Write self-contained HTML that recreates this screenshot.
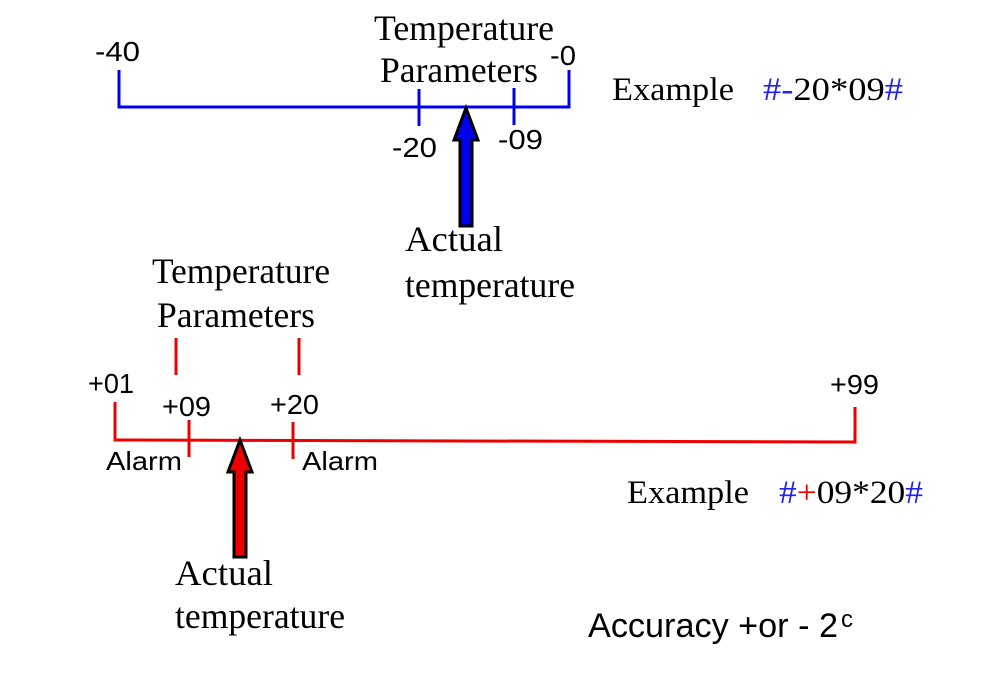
<!DOCTYPE html>
<html><head><meta charset="utf-8"><style>html,body{margin:0;padding:0;background:#fff}svg{display:block}</style></head>
<body>
<svg width="1008" height="675" viewBox="0 0 1008 675" xmlns="http://www.w3.org/2000/svg">
<g fill="none" stroke="#0000ee" stroke-width="3">
<polyline points="119,70 119,107 569,107 569,70"/>
<line x1="419" y1="89" x2="419" y2="126"/>
<line x1="514" y1="88" x2="514" y2="125"/>
</g>
<polygon points="466,108 478,140 472,140 472,226 460,226 460,140 454,140" fill="#0000ee" stroke="#000" stroke-width="3" stroke-linejoin="miter"/>
<g fill="none" stroke="#ee0000" stroke-width="3">
<polyline points="115,402 115,440 855,442 855,407"/>
<line x1="189" y1="420" x2="189" y2="457"/>
<line x1="293" y1="422" x2="293" y2="459"/>
<line x1="176" y1="338" x2="176" y2="375"/>
<line x1="299" y1="338" x2="299" y2="375"/>
</g>
<polygon points="240,440 252,472 246,472 246,557 234,557 234,472 228,472" fill="#ee0000" stroke="#000" stroke-width="3"/>
<g font-family="Liberation Sans, sans-serif" font-size="28" fill="#000">
<text x="95" y="61" textLength="45" lengthAdjust="spacingAndGlyphs">-40</text>
<text x="550" y="65" textLength="26" lengthAdjust="spacingAndGlyphs">-0</text>
<text x="392" y="157" textLength="45" lengthAdjust="spacingAndGlyphs">-20</text>
<text x="498" y="149" textLength="45" lengthAdjust="spacingAndGlyphs">-09</text>
<text x="88" y="393" textLength="46" lengthAdjust="spacingAndGlyphs">+01</text>
<text x="162" y="416" textLength="49" lengthAdjust="spacingAndGlyphs">+09</text>
<text x="270" y="414" textLength="49" lengthAdjust="spacingAndGlyphs">+20</text>
<text x="830" y="394" textLength="49" lengthAdjust="spacingAndGlyphs">+99</text>
<text x="106" y="470" font-size="26" textLength="76" lengthAdjust="spacingAndGlyphs">Alarm</text>
<text x="302" y="470" font-size="26" textLength="76" lengthAdjust="spacingAndGlyphs">Alarm</text>
<text x="588" y="637" font-size="34" textLength="250" lengthAdjust="spacingAndGlyphs">Accuracy +or - 2</text>
<text x="841" y="627" font-size="24">c</text>
</g>
<g font-family="Liberation Serif, serif" font-size="36" fill="#000">
<text x="374" y="40" textLength="180" lengthAdjust="spacingAndGlyphs">Temperature</text>
<text x="380" y="82" textLength="158" lengthAdjust="spacingAndGlyphs">Parameters</text>
<text x="612" y="100" font-size="33" textLength="122" lengthAdjust="spacingAndGlyphs">Example</text>
<text x="763" y="100" font-size="33" textLength="140" lengthAdjust="spacingAndGlyphs"><tspan fill="#2222ee">#-</tspan>20*09<tspan fill="#2222ee">#</tspan></text>
<text x="405" y="251" textLength="98" lengthAdjust="spacingAndGlyphs">Actual</text>
<text x="405" y="297" textLength="170" lengthAdjust="spacingAndGlyphs">temperature</text>
<text x="152" y="283" textLength="178" lengthAdjust="spacingAndGlyphs">Temperature</text>
<text x="157" y="327" textLength="158" lengthAdjust="spacingAndGlyphs">Parameters</text>
<text x="627" y="503" font-size="33" textLength="122" lengthAdjust="spacingAndGlyphs">Example</text>
<text x="779" y="503" font-size="33" textLength="144" lengthAdjust="spacingAndGlyphs"><tspan fill="#2222ee">#</tspan><tspan fill="#ee0000">+</tspan>09*20<tspan fill="#2222ee">#</tspan></text>
<text x="175" y="585" textLength="98" lengthAdjust="spacingAndGlyphs">Actual</text>
<text x="175" y="628" textLength="170" lengthAdjust="spacingAndGlyphs">temperature</text>
</g>
</svg>
</body></html>
